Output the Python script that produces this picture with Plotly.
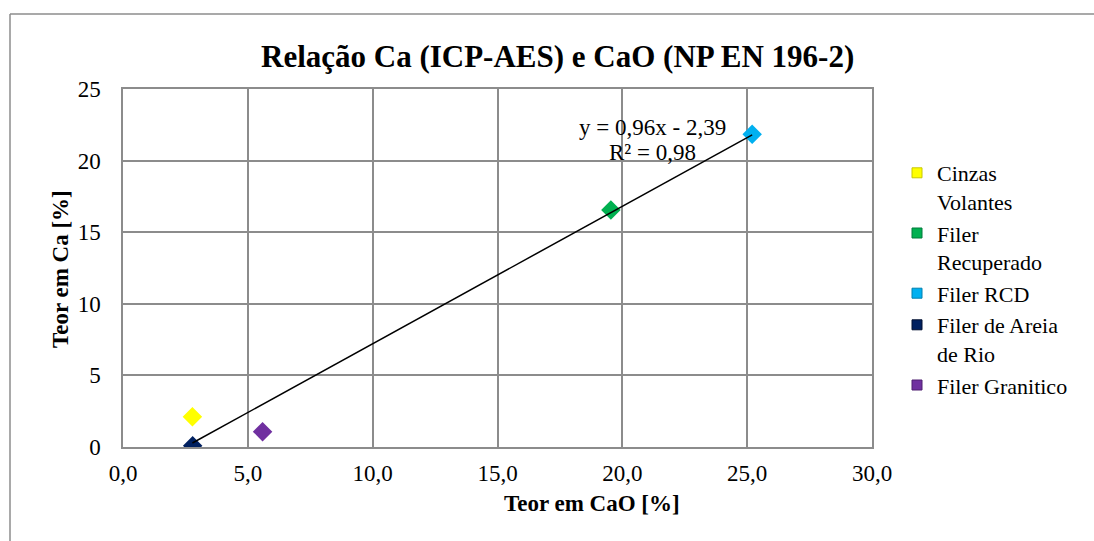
import plotly.graph_objects as go

# Ca (ICP-AES) vs CaO (NP EN 196-2) for each filler
materials = ["Cinzas<br>Volantes", "Filer<br>Recuperado", "Filer RCD",
             "Filer de Areia<br>de Rio", "Filer Granitico"]
cao = [2.78, 19.54, 25.20, 2.79, 5.59]
ca = [2.12, 16.55, 21.84, 0.09, 1.07]
colors = ["#FFFF00", "#00B050", "#00B0F0", "#002060", "#7030A0"]
edge_colors = ["#C8C800", "#007A3A", "#0080B0", "#000F30", "#4E1E70"]

# linear trendline as reported: y = 0,96x - 2,39 ; R² = 0,98
slope = 0.96
intercept = -2.39
r2 = 0.98

x_ticks = [0, 5, 10, 15, 20, 25, 30]
y_ticks = [0, 5, 10, 15, 20, 25]

FONT = "'Liberation Serif', 'Times New Roman', Times, serif"
GRID = "#8C8C8C"

# plot area in pixels (for placing free text)
L, R, T, B = 123, 872, 89, 447
W, H = 1094, 541


def px_x(p):
    return (p - L) / (R - L)


def px_y(p):
    return (B - p) / (B - T)


fig = go.Figure()

for name, xv, yv, c, ec in zip(materials, cao, ca, colors, edge_colors):
    fig.add_trace(go.Scatter(
        x=[xv], y=[yv], mode="markers",
        marker=dict(symbol="diamond", size=15, color=c, line=dict(width=0)),
        showlegend=False, name=name.replace("<br>", " ")))
    # square swatch for the legend
    fig.add_trace(go.Scatter(
        x=[None], y=[None], mode="markers", name=name,
        marker=dict(symbol="square", size=10, color=c,
                    line=dict(color=ec, width=1))))

# trendline across the data range
xmin, xmax = min(cao), max(cao)
fig.add_trace(go.Scatter(
    x=[xmin, xmax], y=[slope * xmin + intercept, slope * xmax + intercept],
    mode="lines", line=dict(color="black", width=1.5),
    showlegend=False, hoverinfo="skip"))

eq1 = "y = {:.2f}x - {:.2f}".format(slope, abs(intercept)).replace(".", ",")
eq2 = "R² = {:.2f}".format(r2).replace(".", ",")

annotations = [
    dict(text="<b>Relação Ca (ICP-AES) e CaO (NP EN 196-2)</b>",
         x=px_x(557), y=px_y(56), xref="paper", yref="paper",
         xanchor="center", yanchor="middle", showarrow=False,
         font=dict(family=FONT, size=31, color="black")),
    dict(text="<b>Teor em CaO [%]</b>",
         x=px_x(592), y=px_y(503), xref="paper", yref="paper",
         xanchor="center", yanchor="middle", showarrow=False,
         font=dict(family=FONT, size=23, color="black")),
    dict(text="<b>Teor em Ca [%]</b>", textangle=-90,
         x=px_x(60), y=px_y(269), xref="paper", yref="paper",
         xanchor="center", yanchor="middle", showarrow=False,
         font=dict(family=FONT, size=23, color="black")),
    dict(text=eq1, x=px_x(652), y=px_y(127), xref="paper", yref="paper",
         xanchor="center", yanchor="middle", showarrow=False,
         font=dict(family=FONT, size=23, color="black")),
    dict(text=eq2, x=px_x(652), y=px_y(152), xref="paper", yref="paper",
         xanchor="center", yanchor="middle", showarrow=False,
         font=dict(family=FONT, size=23, color="black")),
]

# outer chart frame (left and top edges)
shapes = [
    dict(type="line", xref="paper", yref="paper",
         x0=px_x(10), y0=px_y(14), x1=px_x(W + 5), y1=px_y(14),
         line=dict(color=GRID, width=1.5)),
    dict(type="line", xref="paper", yref="paper",
         x0=px_x(10), y0=px_y(14), x1=px_x(10), y1=px_y(H + 5),
         line=dict(color=GRID, width=1.5)),
]

fig.update_layout(
    width=W, height=H,
    margin=dict(l=L, r=W - R, t=T, b=H - B, autoexpand=False),
    paper_bgcolor="white", plot_bgcolor="white",
    separators=",.",
    font=dict(family=FONT, size=23, color="black"),
    annotations=annotations, shapes=shapes,
    legend=dict(x=px_x(897), y=px_y(152), xanchor="left", yanchor="top",
                font=dict(family=FONT, size=22, color="black"),
                itemwidth=30, valign="top", tracegroupgap=0,
                bgcolor="rgba(0,0,0,0)"),
    showlegend=True,
)

fig.update_xaxes(range=[0, 30], tickvals=x_ticks, tickformat=".1f",
                 showgrid=True, gridcolor=GRID, gridwidth=1.5,
                 showline=True, linecolor=GRID, linewidth=1.5, mirror=True,
                 zeroline=False, ticks="outside", ticklen=5,
                 tickcolor="rgba(0,0,0,0)",
                 tickfont=dict(family=FONT, size=23, color="black"))
fig.update_yaxes(range=[0, 25], tickvals=y_ticks,
                 showgrid=True, gridcolor=GRID, gridwidth=1.5,
                 showline=True, linecolor=GRID, linewidth=1.5, mirror=True,
                 zeroline=False, ticks="outside", ticklen=16,
                 tickcolor="rgba(0,0,0,0)",
                 tickfont=dict(family=FONT, size=23, color="black"))

fig.write_html("out.html")
